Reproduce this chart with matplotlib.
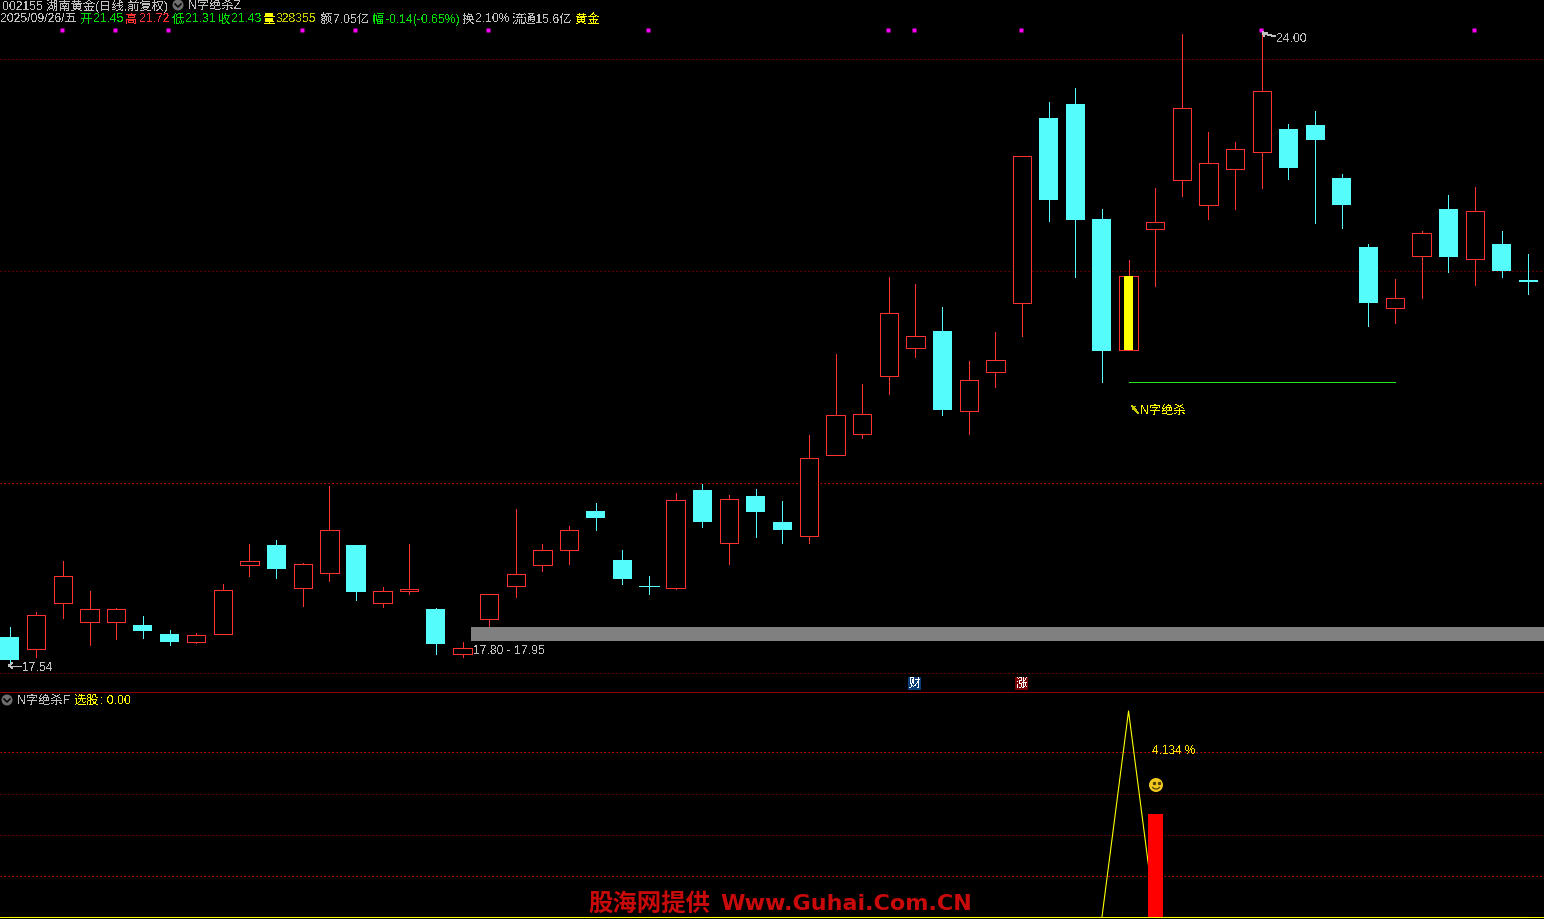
import matplotlib
matplotlib.use("Agg")
import matplotlib.pyplot as plt
from matplotlib.patches import Circle, Rectangle, Arc

plt.rcParams['font.family'] = ['Liberation Sans', 'Noto Sans CJK SC', 'DejaVu Sans']
plt.rcParams['text.antialiased'] = False

# daily prices, one per candle
opens = [17.81, 17.68, 18.15, 17.96, 17.96, 17.93, 17.84, 17.75, 17.84, 18.54,
         18.75, 18.31, 18.46, 18.75, 18.15, 18.28, 18.09, 17.63, 17.99, 18.33,
         18.54, 18.69, 19.09, 18.59, 18.33, 18.31, 19.31, 18.77, 19.25, 18.98,
         18.84, 19.67, 19.88, 20.47, 20.76, 20.93, 20.12, 20.51, 21.22, 23.11,
         23.25, 22.08, 20.74, 21.98, 22.48, 22.22, 22.59, 22.76, 23.00, 23.04,
         22.50, 21.79, 21.17, 21.70, 22.18, 21.67, 21.82, 21.45]
closes = [17.57, 18.03, 18.43, 18.09, 18.09, 17.87, 17.75, 17.83, 18.29, 18.58,
          18.50, 18.55, 18.90, 18.26, 18.28, 18.30, 17.73, 17.69, 18.24, 18.45,
          18.69, 18.90, 19.02, 18.40, 18.33, 19.21, 18.98, 19.22, 19.08, 18.90,
          19.64, 20.07, 20.08, 21.12, 20.88, 20.13, 20.43, 20.64, 22.72, 22.27,
          22.07, 20.73, 21.50, 22.05, 23.21, 22.65, 22.79, 23.39, 22.60, 22.89,
          22.22, 21.22, 21.27, 21.93, 21.69, 22.16, 21.55, 21.43]
highs = [17.91, 18.06, 18.58, 18.28, 18.10, 18.02, 17.88, 17.85, 18.35, 18.76,
         18.80, 18.56, 19.35, 18.75, 18.32, 18.76, 18.10, 17.75, 18.24, 19.11,
         18.76, 18.94, 19.18, 18.69, 18.43, 19.28, 19.37, 19.26, 19.32, 19.20,
         19.87, 20.70, 20.39, 21.49, 21.41, 21.18, 20.63, 20.92, 22.72, 23.27,
         23.42, 22.18, 21.66, 22.40, 23.97, 22.97, 22.87, 24.00, 23.05, 23.18,
         22.54, 21.82, 21.46, 21.96, 22.32, 22.41, 21.96, 21.72]
lows = [17.54, 17.60, 18.00, 17.72, 17.78, 17.79, 17.72, 17.74, 17.84, 18.43,
        18.41, 18.12, 18.38, 18.18, 18.11, 18.24, 17.63, 17.60, 17.92, 18.21,
        18.48, 18.55, 18.90, 18.35, 18.24, 18.30, 18.93, 18.55, 18.83, 18.77,
        18.77, 19.67, 19.84, 20.29, 20.67, 20.07, 19.88, 20.36, 20.88, 22.06,
        21.49, 20.41, 20.74, 21.39, 22.31, 22.08, 22.18, 22.39, 22.49, 22.04,
        21.99, 20.98, 21.02, 21.27, 21.54, 21.40, 21.49, 21.31]

price_levels = [23.71, 21.55, 19.38, 17.44]
marker_days = [2, 4, 6, 11, 13, 18, 24, 33, 34, 38, 47, 55]
marker_price = 24.01
signal_day = 42
zone_low, zone_high = 17.76, 17.91
support_price = 20.41
support_start, support_end = 42, 52

# lower panel
signal_line = [0] * 42 + [1, 0] + [0] * 14
signal_bar_day = 43
signal_bar_value = 0.5
lower_levels = [0.2, 0.4, 0.6, 0.8]

RED = '#FF3232'
CYAN = '#54FCFC'
YELLOW = '#FFFF00'
GRID = '#E00000'
GRID_DIM = '#800000'
GRAY = '#C0C0C0'
PX = 0.72  # one pixel in points
DOTS = (0, (1.5, 2.5))

fig = plt.figure(figsize=(15.44, 9.19), dpi=100, facecolor='black')
W, H = 1544.0, 919.0
ax = fig.add_axes([0, 1 - 691 / H, 1, 691 / H])
ax2 = fig.add_axes([0, 0, 1, (H - 692) / H])
top = fig.add_axes([0, 0, 1, 1])
for a in (ax, ax2, top):
    a.set_facecolor('black')
    a.set_axis_off()
top.patch.set_alpha(0)
top.set_xlim(0, W)
top.set_ylim(H, 0)

x_left, x_right = -0.3626, 57.595
ax.set_xlim(x_left, x_right)
ax.set_ylim(17.253, 24.317)
ax2.set_xlim(x_left, x_right)
ax2.set_ylim(-0.0073, 1.092)

for level, c in zip(price_levels, [GRID_DIM, GRID_DIM, GRID, GRID_DIM]):
    ax.axhline(level, color=c, lw=PX, ls=DOTS, snap=True, zorder=1)

days = range(len(opens))
for i in days:
    body_low, body_high = min(opens[i], closes[i]), max(opens[i], closes[i])
    if closes[i] > opens[i]:
        ax.vlines([i, i], [lows[i], body_high], [body_low, highs[i]], color=RED, lw=PX,
                  antialiased=False, zorder=3)
        ax.bar(i, body_high - body_low, 0.69, bottom=body_low, facecolor='black',
               edgecolor=RED, lw=PX, antialiased=False, zorder=4)
    else:
        ax.vlines(i, lows[i], highs[i], color=CYAN, lw=PX, antialiased=False, zorder=3)
        if body_high == body_low:
            ax.hlines(body_low, i - 0.36, i + 0.36, color=CYAN, lw=PX, antialiased=False, zorder=4)
        else:
            ax.bar(i, body_high - body_low, 0.715, bottom=body_low, color=CYAN,
                   lw=0, antialiased=False, zorder=4)

# highlighted candle
ax.bar(signal_day, closes[signal_day] - opens[signal_day], 0.34, bottom=opens[signal_day],
       color=YELLOW, lw=0, antialiased=False, zorder=5)
ax.plot([d - 0.04 for d in marker_days], [marker_price] * len(marker_days), ls='none',
        marker='s', ms=2.9, mfc='#FF00FF', mec='none', zorder=6)
ax.barh((zone_low + zone_high) / 2, x_right - 17.32, zone_high - zone_low, left=17.32,
        color='#808080', lw=0, antialiased=False, zorder=5)
ax.hlines(support_price, support_start, support_end, color='#20E820', lw=PX,
          antialiased=False, zorder=5)

# lower panel
for level, c in zip(lower_levels, [GRID, GRID_DIM, GRID_DIM, GRID]):
    ax2.axhline(level, color=c, lw=PX, ls=DOTS, snap=True, zorder=1)
ax2.plot(range(len(signal_line)), signal_line, color=YELLOW, lw=PX * 1.1, zorder=3)
ax2.axhline(0, color=YELLOW, lw=PX, antialiased=False, zorder=3)
ax2.bar(signal_bar_day, signal_bar_value, 0.563, color='#FF0000', lw=0,
        antialiased=False, zorder=4)

top.axhline(691.5, color='#900000', lw=PX, antialiased=False)


def put(x, y, s, color=GRAY, size=8.8, **kw):
    top.text(x, y + 1, s, color=color, fontsize=size, ha='left', va='center', **kw)


GREEN = '#00E000'
DIM = '#C8C800'
put(2, 5.5, '002155 湖南黄金(日线,前复权)')
put(188, 5.5, 'N字绝杀Z')
row = [(0, '2025/09/26/五', GRAY), (80, '开', GREEN), (93, '21.45', GREEN),
       (125, '高', RED), (139, '21.72', RED), (172, '低', GREEN), (185, '21.31', GREEN),
       (218, '收', GREEN), (231, '21.43', GREEN), (263, '量', YELLOW), (276, '328355', DIM),
       (320, '额', GRAY), (333, '7.05亿', GRAY), (372, '幅', GREEN),
       (385, '-0.14(-0.65%)', GREEN), (462, '换', GRAY), (475, '2.10%', GRAY),
       (512, '流通15.6亿', GRAY), (575, '黄金', YELLOW)]
for x, s, c in row:
    put(x, 18.5, s, c)

put(22, 667, '17.54')
put(1276, 37.5, '24.00')
put(473, 650, '17.80 - 17.95')
put(1140, 410, 'N字绝杀', YELLOW)
put(17, 700, 'N字绝杀F')
put(74, 700, '选股', YELLOW)
put(100, 700, ': 0.00', YELLOW)
put(1152, 749.5, '4.134 %', '#FFE000', size=8.6)

# little pointers next to the labels
top.plot([9, 21], [665.5, 665.5], color=GRAY, lw=PX, antialiased=False)
top.plot([12, 9, 12], [663, 665.5, 668], color=GRAY, lw=PX, antialiased=False)
top.plot([1263, 1268, 1275], [32, 35, 36], color=GRAY, lw=PX, antialiased=False)
top.plot([1263, 1267], [32, 32], color=GRAY, lw=PX, antialiased=False)
top.plot([1263, 1264], [32, 36], color=GRAY, lw=PX, antialiased=False)
top.plot([1132, 1138], [406, 413], color=DIM, lw=PX, antialiased=False)
top.plot([1132, 1135], [406, 406], color=DIM, lw=PX, antialiased=False)
top.plot([1132, 1132], [406, 409], color=DIM, lw=PX, antialiased=False)

# collapse icons
for cx, cy in [(178, 5), (7, 700)]:
    top.add_patch(Circle((cx, cy), 5.5, color='#6E6E6E', lw=0))
    top.plot([cx - 3, cx, cx + 3], [cy - 1, cy + 2, cy - 1], color='black', lw=1.1)

# news tags
top.add_patch(Rectangle((908, 677), 13, 13, color='#0A3C78', lw=0))
top.text(914.5, 684, '财', color='white', fontsize=8.6, ha='center', va='center')
top.add_patch(Rectangle((1015, 677), 13, 13, color='#780000', lw=0))
top.text(1021.5, 684, '涨', color='white', fontsize=8.6, ha='center', va='center')

# smiley
top.add_patch(Circle((1156, 785), 7, color='#F0C820', lw=0, zorder=5))
top.plot([1153.5, 1158.5], [782.5, 782.5], ls='none', marker='s', ms=1.3, color='#504000', zorder=6)
top.add_patch(Arc((1156, 785.5), 8, 7, theta1=20, theta2=160, color='#504000', lw=0.9, zorder=6))

# watermark
top.text(588, 905, '股海网提供', color='#C80A0A', fontsize=17.6, fontweight='bold',
         family='Noto Sans CJK SC', ha='left', va='center', antialiased=True)
top.text(720, 904, 'Www.Guhai.Com.CN', color='#C80A0A', fontsize=16, fontweight='bold',
         family='DejaVu Sans', ha='left', va='center', antialiased=True)

fig.savefig('out.png', dpi=100, facecolor='black')
